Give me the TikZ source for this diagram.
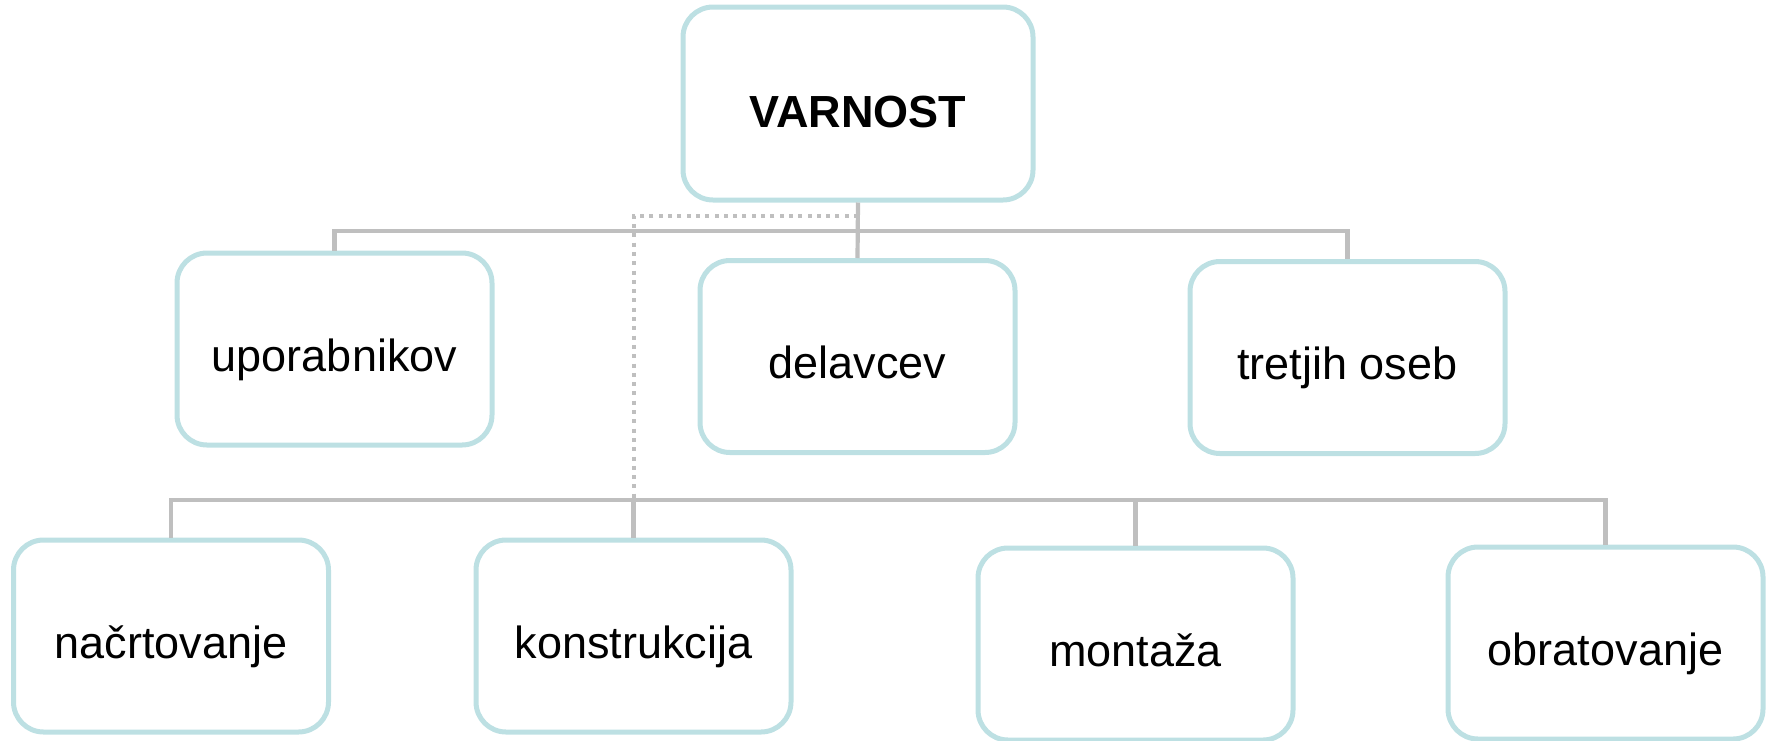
\documentclass[tikz,border=0pt]{standalone}
\usepackage{fontspec}
\setmainfont{Liberation Sans}
\definecolor{boxline}{HTML}{BDE0E3}
\definecolor{conn}{HTML}{BFBFBF}
\begin{document}
\begin{tikzpicture}[x=1pt,y=-1pt,
  box/.style={draw=boxline, line width=5pt, rounded corners=30pt, fill=white,
    minimum width=315pt, minimum height=192pt, inner sep=0pt,
    text height=50pt, text depth=6pt,
    font=\fontsize{45}{54}\selectfont},
  link/.style={draw=conn, line width=4.2pt},
  dotlink/.style={draw=conn, line width=4pt, dash pattern=on 4pt off 5.3pt}]
\useasboundingbox (0,0) rectangle (1769,740);
\node[box, minimum width=350pt, minimum height=193pt, text height=54pt, font=\fontsize{45}{54}\selectfont\bfseries] (V) at (858,103.5) {VARNOST};
\node[box] (U) at (334.5,349) {uporabnikov};
\node[box] (D) at (857.5,356.5) {delavcev};
\node[box] (T) at (1347.5,357.5) {tretjih oseb};
\node[box] (N) at (171,636) {načrtovanje};
\node[box] (K) at (633.5,636) {konstrukcija};
\node[box] (M) at (1135.5,644) {montaža};
\node[box] (O) at (1605.5,643) {obratovanje};
\coordinate (hub1) at (858,231);
\coordinate (d1) at (858,216);
\coordinate (hub2) at (633.5,500);
\draw[dotlink] (d1) -| (hub2);
\draw[link] (V.south) -- (D.north);
\draw[link] (U.north) |- (hub1) -| (T.north);
\draw[link] (N.north) |- (hub2) -| (O.north);
\draw[link] (hub2) -- (K.north);
\draw[link] (M.north) -- (M.north |- hub2);
\end{tikzpicture}
\end{document}
